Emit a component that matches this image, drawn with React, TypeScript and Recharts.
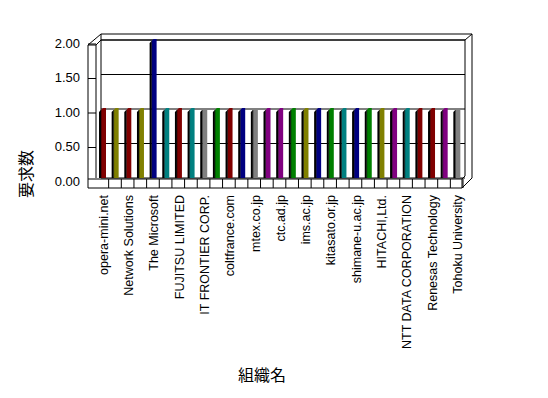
import { Bar, BarChart, CartesianGrid, Cell, XAxis, YAxis } from "recharts";

// 組織名 (only every other category label is shown in the original)
const orgs = [
  "opera-mini.net", "", "Network Solutions", "", "The Microsoft", "",
  "FUJITSU LIMITED", "", "IT FRONTIER CORP.", "", "coltfrance.com", "",
  "mtex.co.jp", "", "ctc.ad.jp", "", "ims.ac.jp", "", "kitasato.or.jp", "",
  "shimane-u.ac.jp", "", "HITACHI,Ltd.", "", "NTT DATA CORPORATION", "",
  "Renesas Technology", "", "Tohoku University",
];

// 要求数
const requests = [
  1, 1, 1, 1, 2, 1, 1, 1, 1, 1, 1, 1, 1, 1, 1,
  1, 1, 1, 1, 1, 1, 1, 1, 1, 1, 1, 1, 1, 1,
];

const yTicks = [0, 0.5, 1, 1.5, 2];

const RED = "#800000";
const OLV = "#808000";
const NAV = "#000080";
const TEA = "#008080";
const GRY = "#808080";
const GRN = "#008000";
const PUR = "#800080";

const barColors = [
  RED, OLV, RED, OLV, NAV, TEA, RED, TEA, GRY, GRN, RED, NAV, GRY, PUR, PUR,
  GRN, OLV, NAV, GRN, TEA, NAV, GRN, OLV, PUR, TEA, RED, RED, PUR, GRY,
];

const data = orgs.map((name, i) => ({ name, value: requests[i] }));

const W = 548;
const H = 398;
const PL = 96;
const PR = 463;
const PT = 40;
const PB = 178;
const BW = (PR - PL) / orgs.length;
const FONT = "'Liberation Sans', Arial, sans-serif";
const CJK = "'Noto Sans CJK JP', sans-serif";

const XTick = (props: any) => {
  const { x, payload } = props;
  const label = payload.value as string;
  return (
    <g>
      <line x1={x + BW / 2} x2={x + BW / 2} y1={PB + 1} y2={PB + 10} stroke="#000" />
      {label && (
        <text
          transform={`translate(${x + 1},${PB + 17}) rotate(-90)`}
          textAnchor="end"
          dy="0.35em"
          fontSize={12.5}
          fontFamily={FONT}
          fill="#000"
        >
          {label}
        </text>
      )}
    </g>
  );
};

const YTick = (props: any) => {
  const { y, payload } = props;
  return (
    <g>
      <text
        x={80}
        y={y + 3}
        dy="0.355em"
        textAnchor="end"
        fontSize={13}
        fontFamily={FONT}
        fill="#000"
      >
        {Number(payload.value).toFixed(2)}
      </text>
      {payload.value > 0 && (
        <line x1={88} x2={96} y1={y + 4} y2={y + 4} stroke="#000" />
      )}
    </g>
  );
};

const Bar3D = (props: any) => {
  const { x, y, width, height, fill } = props;
  if (!height) return null;
  const b = y + height;
  return (
    <g>
      <polygon
        points={`${x},${y + 3} ${x + 2},${y + 1} ${x + 2},${b} ${x},${b}`}
        fill="#000"
      />
      <polygon
        points={`${x + 2},${y + 1} ${x + 4},${y - 1} ${x + width},${y - 1} ${x + width},${b} ${x + 2},${b}`}
        fill={fill}
      />
      <line x1={x + 2} x2={x + 2} y1={y + 1} y2={b} stroke="#000" strokeWidth={0.6} />
    </g>
  );
};

const Frame = () => (
  <svg width={W} height={H} style={{ position: "absolute", left: 0, top: 0 }}>
    <g stroke="#000" strokeWidth={1} fill="none">
      {/* left wall */}
      <line x1={88} y1={45} x2={88} y2={188} />
      <line x1={96} y1={45} x2={96} y2={PB} />
      <line x1={88} y1={45} x2={101} y2={34} />
      <line x1={96} y1={45} x2={101} y2={40} />
      <line x1={88} y1={45} x2={96} y2={45} />
      {/* back wall */}
      <line x1={101} y1={40} x2={465} y2={40} />
      <line x1={101} y1={34} x2={472} y2={34} />
      <line x1={101} y1={34} x2={101} y2={PB} />
      <line x1={465} y1={40} x2={465} y2={PB - 2} />
      <line x1={472} y1={34} x2={472} y2={178} />
      <line x1={465} y1={40} x2={472} y2={34} />
      {/* floor */}
      <line x1={88} y1={PB + 1} x2={462} y2={PB + 1} />
      <line x1={88} y1={188} x2={462} y2={188} />
      <line x1={462} y1={PB + 1} x2={462} y2={188} />
      <line x1={462} y1={188} x2={472} y2={178} />
      <line x1={462} y1={PB + 1} x2={465} y2={PB - 2} />
    </g>
    <text
      transform="translate(26,174) rotate(-90)"
      textAnchor="middle"
      dy="0.35em"
      fontSize={16}
      fontFamily={CJK}
      fill="#000"
    >
      要求数
    </text>
    <text
      x={262}
      y={375}
      textAnchor="middle"
      dy="0.35em"
      fontSize={16}
      fontFamily={CJK}
      fill="#000"
    >
      組織名
    </text>
  </svg>
);

export default function App() {
  return (
    <div style={{ position: "absolute", left: 0, top: 0, width: W, height: H, background: "#fff" }}>
      <Frame />
      <div style={{ position: "absolute", left: 0, top: 0 }}>
        <BarChart
          width={W}
          height={H}
          data={data}
          margin={{ top: PT, right: W - PR, bottom: H - PB - 20, left: PL - 40 }}
          barSize={7}
        >
          <CartesianGrid
            vertical={false}
            stroke="#000"
            strokeOpacity={1}
            x={101}
            width={364}
          />
          <XAxis
            dataKey="name"
            height={20}
            interval={0}
            axisLine={false}
            tickLine={false}
            tick={<XTick />}
          />
          <YAxis
            width={40}
            domain={[0, 2]}
            ticks={yTicks}
            axisLine={false}
            tickLine={false}
            tick={<YTick />}
          />
          <Bar dataKey="value" shape={<Bar3D />} isAnimationActive={false}>
            {data.map((d, i) => (
              <Cell key={d.name + i} fill={barColors[i]} />
            ))}
          </Bar>
        </BarChart>
      </div>
    </div>
  );
}
